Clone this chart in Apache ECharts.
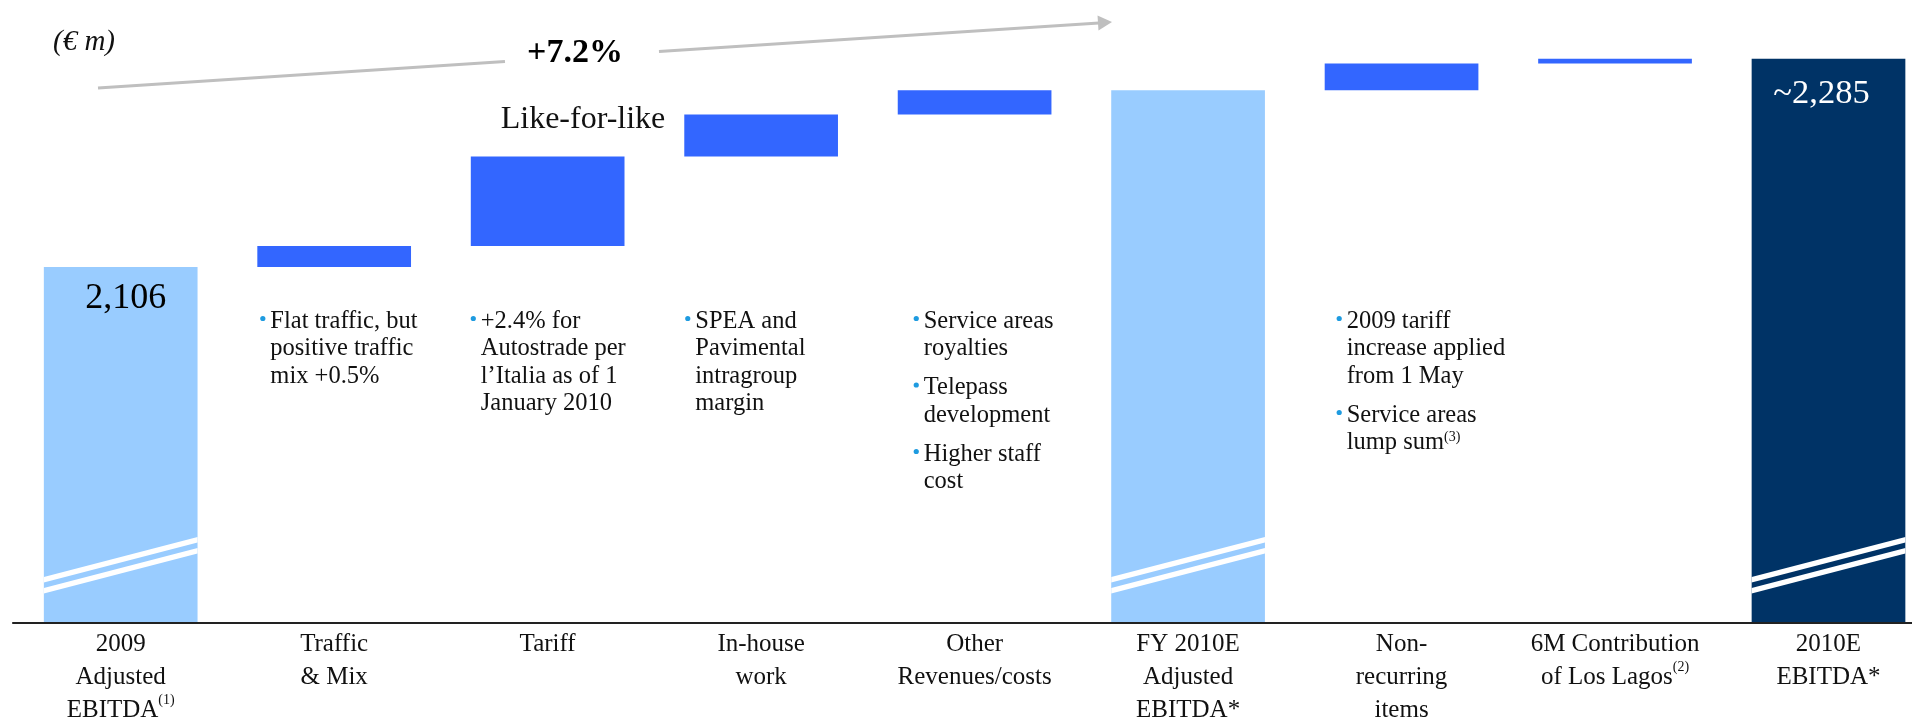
<!DOCTYPE html>
<html>
<head>
<meta charset="utf-8">
<script src="https://cdn.jsdelivr.net/npm/echarts@6/dist/echarts.min.js"></script>
<style>
  html, body { margin: 0; padding: 0; background: #ffffff; }
  #chart { width: 1912px; height: 720px; }
</style>
</head>
<body>
<div id="chart"></div>
<script>
// EBITDA bridge, 2009 adjusted -> 2010E (EUR m)
const categories = [
  '2009\nAdjusted\nEBITDA{sup|(1)}',
  'Traffic\n& Mix',
  'Tariff',
  'In-house\nwork',
  'Other\nRevenues/costs',
  'FY 2010E\nAdjusted\nEBITDA*',
  'Non-\nrecurring\nitems',
  '6M Contribution\nof Los Lagos{sup|(2)}',
  '2010E\nEBITDA*'
];

// 'start' / 'subtotal' / 'end' bars stand on the axis, 'step' bars float on the running sum
const barKinds = ['start', 'step', 'step', 'step', 'step', 'subtotal', 'step', 'step', 'end'];
const barValues = [2106, 18, 77, 36, 21, 2258, 23, 4, 2285];

// bars whose value is printed inside the bar; '~' marks an approximate figure
const labelledBars = [0, 8];
const approxBars = [8];

// bullet notes under the change bars (one inner list per bullet)
const notes = [
  null,
  [['Flat traffic, but', 'positive traffic', 'mix +0.5%']],
  [['+2.4% for', 'Autostrade per', 'l\u2019Italia as of 1', 'January 2010']],
  [['SPEA and', 'Pavimental', 'intragroup', 'margin']],
  [['Service areas', 'royalties'], ['Telepass', 'development'], ['Higher staff', 'cost']],
  null,
  [['2009 tariff', 'increase applied', 'from 1 May'], ['Service areas', 'lump sum{sup|(3)}']],
  null,
  null
];

// header annotations
const growthLabel = '+7.2%';
const growthCaption = 'Like-for-like';
const unitLabel = '(\u20ac m)';

// ---- styling / layout ----
const SERIF = "'Liberation Serif', 'Times New Roman', serif";
const Y_MIN = 1800, Y_MAX = 2300;          // broken value axis: bars start at the floor
const BAR_RATIO = 0.72;
const kindColor = { start: '#99CCFF', subtotal: '#99CCFF', step: '#3366FF', end: '#003366' };
const noteInset = [0, 3, 0, 1, 16, 0, 12, 0, 0];   // bullet offset from the bar's left edge
const NOTE_TOP = 321.5, NOTE_LINE = 27.5, NOTE_PARA = 39;
const GRID_TOP = 41.3, GRID_BOTTOM = 97;

// ---- waterfall layout: transparent base + visible segment ----
// bars standing on the axis begin at the axis floor, floating bars at the running sum
let running = 0;
const baseData = [];
const segData = [];
barValues.forEach((v, i) => {
  if (barKinds[i] === 'step') {
    baseData.push(running);
    segData.push(v);
    running += v;
  } else {
    baseData.push(Y_MIN);
    segData.push(v - Y_MIN);
    running = v;
  }
});

function fmt(v, i) {
  const s = v.toLocaleString('en-US');
  return approxBars.includes(i) ? '~' + s : s;
}

const segItems = segData.map((v, i) => {
  const item = { value: v, itemStyle: { color: kindColor[barKinds[i]] } };
  if (labelledBars.includes(i)) {
    const dark = barKinds[i] === 'end';
    item.label = {
      show: true,
      position: 'insideTop',
      distance: dark ? 17.5 : 14,
      offset: dark ? [-7, 0] : [5, 0],
      formatter: fmt(barValues[i], i),
      color: dark ? '#ffffff' : '#000000',
      fontFamily: SERIF,
      fontSize: dark ? 34.5 : 36
    };
  }
  return item;
});

// axis-break stripes across the bars that stand on the axis
const breakData = barKinds.map((k, i) => (k === 'step' ? null : [i])).filter(Boolean);

function renderBreak(params, api) {
  const idx = api.value(0);
  const p = api.coord([idx, Y_MIN]);
  const w = api.size([1, 0])[0] * BAR_RATIO;
  const x0 = p[0] - w / 2, x1 = p[0] + w / 2;
  const rise = w * 0.26;
  const h = 5.5;
  const stripes = [46, 35].map(t => ({
    type: 'polygon',
    shape: { points: [[x0, p[1] - t], [x1, p[1] - t - rise], [x1, p[1] - t - rise + h], [x0, p[1] - t + h]] },
    style: { fill: '#ffffff' }
  }));
  return { type: 'group', children: stripes };
}

const noteData = notes.map((n, i) => (n ? [i] : null)).filter(Boolean);

function renderNote(params, api) {
  const idx = api.value(0);
  const c = api.coord([idx, Y_MIN]);
  const w = api.size([1, 0])[0] * BAR_RATIO;
  const bx = c[0] - w / 2 + noteInset[idx];
  const children = [];
  let y = NOTE_TOP;
  notes[idx].forEach((para, pi) => {
    if (pi > 0) y += NOTE_PARA;
    children.push({
      type: 'circle',
      shape: { cx: bx + 2.5, cy: y - 3, r: 2.6 },
      style: { fill: '#1E9BE0' }
    });
    para.forEach((line, li) => {
      children.push({
        type: 'text',
        style: {
          x: bx + 10, y: y,
          text: line,
          fill: '#111111',
          font: '24.5px ' + SERIF,
          align: 'left',
          verticalAlign: 'middle',
          rich: { sup: { fontSize: 14, lineHeight: 20, verticalAlign: 'top', fill: '#111111', fontFamily: SERIF } }
        }
      });
      if (li < para.length - 1) y += NOTE_LINE;
    });
  });
  return { type: 'group', children };
}

const chart = echarts.init(document.getElementById('chart'), null, { renderer: 'canvas' });

chart.setOption({
  backgroundColor: '#ffffff',
  animation: false,
  grid: [
    // plotting grid: ticks sit on the first and last bar centres
    { left: 120.7, right: 83.5, top: GRID_TOP, bottom: GRID_BOTTOM, containLabel: false, outerBoundsMode: 'none' },
    // full-width baseline
    { left: 13, right: 0, top: GRID_TOP, bottom: GRID_BOTTOM, containLabel: false, outerBoundsMode: 'none' }
  ],
  xAxis: [
    {
      type: 'category',
      gridIndex: 0,
      data: categories,
      boundaryGap: false,
      axisLine: { show: false },
      axisTick: { show: false },
      splitLine: { show: false },
      axisLabel: {
        interval: 0,
        margin: 4.5,
        color: '#111111',
        fontFamily: SERIF,
        fontSize: 25,
        lineHeight: 33,
        align: 'center',
        rich: { sup: { fontSize: 14, lineHeight: 20, verticalAlign: 'top', color: '#111111', fontFamily: SERIF } }
      }
    },
    {
      type: 'value',
      gridIndex: 1,
      min: 0,
      max: 1,
      axisLine: { show: true, onZero: false, lineStyle: { color: '#222222', width: 2.2 } },
      axisTick: { show: false },
      axisLabel: { show: false },
      splitLine: { show: false },
      z: 5
    }
  ],
  yAxis: [
    { type: 'value', gridIndex: 0, min: Y_MIN, max: Y_MAX, show: false, splitLine: { show: false } },
    { type: 'value', gridIndex: 1, min: 0, max: 1, show: false, splitLine: { show: false } }
  ],
  series: [
    {
      name: 'base',
      type: 'bar',
      stack: 'bridge',
      barWidth: (BAR_RATIO * 100) + '%',
      itemStyle: { color: 'transparent' },
      emphasis: { disabled: true },
      data: baseData,
      clip: false,
      silent: true
    },
    {
      name: 'EBITDA',
      type: 'bar',
      stack: 'bridge',
      barWidth: (BAR_RATIO * 100) + '%',
      data: segItems,
      clip: false
    },
    {
      name: 'breaks',
      type: 'custom',
      renderItem: renderBreak,
      data: breakData,
      encode: { x: 0 },
      clip: false,
      z: 3,
      silent: true
    },
    {
      name: 'notes',
      type: 'custom',
      renderItem: renderNote,
      data: noteData,
      encode: { x: 0 },
      clip: false,
      silent: true
    }
  ],
  graphic: [
    {
      type: 'text',
      style: { x: 84, y: 42, text: unitLabel, font: 'italic 29px ' + SERIF, fill: '#111111', align: 'center', verticalAlign: 'middle' }
    },
    {
      type: 'line',
      shape: { x1: 98, y1: 88, x2: 505, y2: 61.5 },
      style: { stroke: '#BFBFBF', lineWidth: 3 }
    },
    {
      type: 'line',
      shape: { x1: 659, y1: 51.5, x2: 1099, y2: 23 },
      style: { stroke: '#BFBFBF', lineWidth: 3 }
    },
    {
      type: 'polygon',
      shape: { points: [[1112, 22], [1097.5, 15.5], [1098.5, 30.5]] },
      style: { fill: '#BFBFBF' }
    },
    {
      type: 'text',
      style: { x: 575, y: 53, text: growthLabel, font: 'bold 34px ' + SERIF, fill: '#000000', align: 'center', verticalAlign: 'middle' }
    },
    {
      type: 'text',
      style: { x: 583, y: 119.5, text: growthCaption, font: '32px ' + SERIF, fill: '#111111', align: 'center', verticalAlign: 'middle' }
    }
  ]
});
</script>
</body>
</html>
